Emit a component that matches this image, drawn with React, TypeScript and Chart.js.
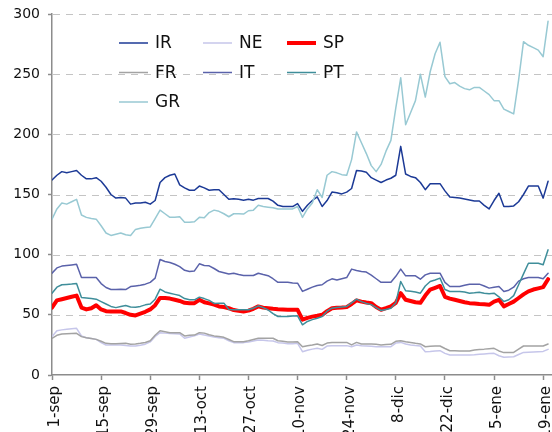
import { useEffect, useRef } from 'react';
import { Chart, registerables } from 'chart.js';

Chart.register(...registerables);

// Business days from 1-sep to 20-ene; ticks every 10 business days
const tickLabels = ['1-sep', '15-sep', '29-sep', '13-oct', '27-oct', '10-nov', '24-nov', '8-dic', '22-dic', '5-ene', '19-ene'];
const tickIndex = [0, 10, 20, 30, 40, 50, 60, 70, 80, 90, 100];

const seriesNames = ['IR', 'NE', 'SP', 'FR', 'IT', 'PT', 'GR'];

const IR = [162, 166, 169, 168, 169, 170, 166, 163, 163, 164,
  161, 156, 150, 147, 147.5, 147, 142, 143, 143, 143.5,
  142, 145, 160, 164, 166, 167, 158, 155.5, 153.5, 153.5,
  157, 155.5, 153.5, 154, 154, 150, 146, 146.4, 146, 145.3,
  146, 145.3, 146.7, 146.7, 146.7, 144.5, 141, 140, 140, 140,
  142.5, 136, 141, 145, 148, 140, 145, 152, 151.5, 150.5,
  152, 155, 170, 169.5, 168.5, 164, 162, 160, 162, 163.5,
  166, 190, 167, 165, 164, 160, 154, 159, 159, 159,
  153, 148, 147.6, 147, 146.3, 145.5, 144.6, 144.6, 141, 138,
  145, 151, 140, 140, 140.5, 144, 150, 157, 157, 157,
  147, 161];

const NE = [31.9, 36.8, 37.5, 38, 38.5, 38.8, 32.4, 31, 30.3, 29.6,
  27, 24.9, 24.9, 24.9, 24.9, 24.5, 24.2, 24.1, 24.8, 25.6,
  27.5, 32, 35.2, 34.8, 34.5, 34.3, 34.1, 30.5, 31.5, 32.5,
  34.1, 33.3, 32.4, 31.5, 31, 30.5, 28.5, 26.9, 26.9, 26.9,
  27.5, 28.3, 29.1, 28.8, 28.5, 28.3, 26.9, 26.6, 26, 26,
  26.3, 19.4, 20.5, 21.5, 22.2, 21.3, 24, 24.4, 24.4, 24.4,
  24.4, 23.5, 24.9, 24.3, 24.1, 23.8, 23.5, 23.5, 23.5, 23.5,
  26.5, 27.1, 25.8, 25, 24.5, 24.1, 19.4, 19.6, 20, 20.2,
  18, 16.6, 16.6, 16.6, 16.6, 16.6, 16.8, 17.2, 17.5, 17.8,
  18, 16, 14.7, 15, 15.2, 17, 18.8, 19, 19.2, 19.4,
  19.6, 21.3];

const SP = [56, 62, 63, 64, 65, 66, 56, 54.5, 55.5, 58,
  54.5, 53, 52.8, 52.8, 52.8, 51.5, 50, 49.5, 51, 52.5,
  54.5, 58, 64, 64, 63.5, 62.5, 61.5, 60, 59.7, 59.7,
  62.5, 60.5, 59.5, 58.5, 57, 56.5, 55.5, 54, 53.3, 52.8,
  53.5, 55, 57, 56, 55.5, 55, 54.7, 54.5, 54.3, 54.2,
  54.2, 46, 47.5, 48.5, 49.2, 50, 53, 55.5, 55.8, 56,
  56.4, 59, 62, 61, 60.3, 59.7, 56.5, 54.2, 55.5, 57,
  60, 68, 62.5, 61.5, 60.5, 60, 66, 71, 72.5, 74,
  65, 63.5, 62.5, 61.5, 60.5, 59.7, 59.5, 59, 58.7, 58.3,
  61, 62.5, 57, 59, 61, 64, 67, 69.5, 71, 72,
  73, 79.6];

const FR = [30.5, 33, 34.1, 34.3, 34.5, 34.6, 31.9, 31, 30.3, 29.6,
  28, 26.3, 26, 26, 26.2, 26.3, 25.5, 25.8, 26.3, 27,
  28.5, 33, 36.8, 36, 35.2, 35.2, 35.2, 32.5, 33, 33.2,
  35.2, 34.8, 33.5, 32.5, 32, 31.3, 29.5, 27.7, 27.7, 27.7,
  28.5, 29.5, 30.5, 30.5, 30.5, 30.5, 28.5, 28, 27.5, 27.5,
  27.7, 23.5, 24.3, 25, 25.8, 24.5, 26.5, 27.1, 27.1, 27.1,
  27.1, 25, 27.1, 25.8, 25.8, 25.8, 25.5, 25, 25.3, 25.5,
  28, 28.5, 27.7, 27, 26.3, 25.8, 23.5, 23.8, 24, 24.1,
  22, 20.2, 20.1, 20, 19.9, 19.9, 20.8, 21.2, 21.5, 21.9,
  22.2, 20, 18.6, 18.7, 18.8, 21.5, 24.1, 24.1, 24.1, 24.1,
  24.1, 25.8];

const IT = [84.6, 89, 90.5, 91, 91.5, 92, 81, 81, 81, 81,
  76, 72.7, 71, 71, 71.3, 71, 73.5, 74, 74.5, 75.5,
  77, 80.5, 96, 94.3, 93.5, 92, 90, 87, 86, 86.5,
  92.4, 91, 90.7, 88.5, 86, 85, 84, 84.6, 83.5, 82.7,
  82.7, 82.7, 84.6, 83.5, 82.5, 80, 77, 77, 77, 76.5,
  76.3, 69.5, 71.3, 73, 74.4, 75, 78, 79.9, 79, 80,
  81, 88, 86.8, 86, 85.5, 83, 80, 77, 77, 77,
  82, 88, 82.4, 82.4, 82.4, 79.6, 83.2, 84.6, 84.6, 84.6,
  77, 73.5, 73.5, 73.5, 74.5, 75.5, 75.5, 75.5, 74, 72.2,
  73, 73.5, 69.4, 70.5, 73, 78, 80, 81, 81, 81,
  80, 84.6];

const PT = [68, 73, 75, 75.3, 75.6, 76, 64.5, 64, 63.5, 63,
  61, 59, 57, 56, 57, 57.8, 56.5, 56.3, 57, 58.3,
  59, 63, 71.3, 69, 68, 67, 66, 63.5, 62.5, 62.5,
  64.7, 63.5, 62, 59.5, 59.7, 59.7, 54.5, 54.2, 54.2, 54.2,
  54.2, 55.5, 57.5, 56, 54, 51, 48.6, 48.6, 48.6, 49,
  49.2, 41.7, 44.5, 46, 47.2, 48.6, 53, 55.5, 56, 56.5,
  57, 60, 63, 61, 59.5, 58.5, 56, 53.6, 54.5, 55.5,
  60, 77.7, 70, 69.5, 69, 68, 74, 77.7, 79, 80.5,
  71, 69.4, 69.4, 69.4, 69, 68, 68.3, 68.8, 68, 67.5,
  68, 65, 61.1, 62.5, 66, 75, 84, 92.9, 92.9, 92.9,
  91.6, 104];

const GR = [129.5, 138, 143, 142, 144, 146, 133, 131, 130, 129.5,
  124, 118, 116, 117, 118, 116.5, 116, 121, 122, 122.5,
  123, 130, 137, 134, 131, 131, 131.5, 127, 127, 127.3,
  131, 130.6, 135, 137, 136, 134, 131.5, 134, 134, 133.7,
  136.5, 137, 141, 140, 139.5, 139, 138, 138, 138, 138,
  140, 131, 138, 143, 154, 147.5, 166, 169, 168, 166.5,
  166, 179, 202, 193, 184, 174, 169, 175, 186, 195,
  222, 247, 208, 218, 228, 250, 231, 252, 267, 276.5,
  248, 242, 243, 240, 238, 237, 239, 239, 236, 233,
  228, 228, 221, 219, 217, 245, 277, 274, 272, 270,
  264.5, 294];

const seriesValues = [IR, NE, SP, FR, IT, PT, GR];
const seriesColors = ['#1c3a96', '#c6c6ea', '#ff0000', '#a3a3a3', '#5a62aa', '#3f8e9a', '#98c9d3'];
const seriesWidths = [1.5, 1.5, 4, 1.5, 1.5, 1.5, 1.5];

const FONT = '"DejaVu Sans", Verdana, sans-serif';

const decor = {
  id: 'decor',
  beforeDatasetsDraw(chart: any, _args: any, opts: any) {
    const ctx = chart.ctx;
    const ys = chart.scales.y;
    const area = chart.chartArea;
    ctx.save();
    ctx.strokeStyle = opts.gridColor;
    ctx.lineWidth = 1;
    ctx.setLineDash(opts.gridDash);
    ys.ticks.forEach((t: any) => {
      if (t.value === 0) return;
      const py = Math.round(ys.getPixelForValue(t.value)) + 0.5;
      ctx.beginPath();
      ctx.moveTo(area.left + 1, py);
      ctx.lineTo(area.right, py);
      ctx.stroke();
    });
    ctx.restore();
  },
  afterDatasetsDraw(chart: any, _args: any, opts: any) {
    const ctx = chart.ctx;
    ctx.save();
    ctx.setLineDash([]);
    // legend inside the plot area
    ctx.font = `${opts.legendSize}px ${FONT}`;
    ctx.textBaseline = 'middle';
    ctx.textAlign = 'left';
    chart.data.datasets.forEach((ds: any, k: number) => {
      const col = k % 3;
      const row = Math.floor(k / 3);
      const x = opts.x0 + col * opts.dx;
      const y = opts.y0 + row * opts.dy;
      ctx.strokeStyle = ds.borderColor;
      ctx.lineWidth = ds.borderWidth;
      ctx.lineCap = 'butt';
      ctx.beginPath();
      ctx.moveTo(x, y);
      ctx.lineTo(x + opts.lineLen, y);
      ctx.stroke();
      ctx.fillStyle = opts.textColor;
      ctx.fillText(ds.label, x + opts.textOff, y + 1);
    });
    ctx.restore();
    // rotated x tick labels (reading upwards, ending just below the axis)
    const xs = chart.scales.x;
    ctx.save();
    ctx.font = `${opts.xTickSize}px ${FONT}`;
    ctx.fillStyle = opts.textColor;
    ctx.textAlign = 'right';
    ctx.textBaseline = 'middle';
    tickIndex.forEach((v, k) => {
      const px = xs.getPixelForValue(v);
      ctx.save();
      ctx.translate(px + opts.xTickShift, xs.top + opts.xTickGap);
      ctx.rotate(-Math.PI / 2);
      ctx.fillText(tickLabels[k], 0, 0);
      ctx.restore();
    });
    ctx.restore();
  },
};

export default function App() {
  const ref = useRef<HTMLCanvasElement>(null);
  useEffect(() => {
    const canvas = ref.current;
    if (!canvas) return;
    const chart = new Chart(canvas, {
      type: 'line',
      data: {
        datasets: seriesNames.map((name, k) => ({
          label: name,
          data: seriesValues[k].map((v, i) => ({ x: i, y: v })),
          borderColor: seriesColors[k],
          backgroundColor: seriesColors[k],
          borderWidth: seriesWidths[k],
          pointRadius: 0,
          tension: 0,
          fill: false,
          borderJoinStyle: 'round',
          borderCapStyle: 'round',
          order: -k,
        })),
      },
      options: {
        animation: false,
        responsive: false,
        devicePixelRatio: 1,
        layout: { padding: { top: 14, left: 0, right: 0, bottom: 0 } },
        plugins: {
          legend: { display: false },
          tooltip: { enabled: false },
          decor: {
            x0: 119, y0: 43, dx: 84, dy: 29.5, lineLen: 29, textOff: 36, legendSize: 17,
            textColor: '#111111', gridColor: '#c4c4c4', gridDash: [7, 6],
            xTickSize: 15, xTickGap: 11, xTickShift: 3,
          },
        } as any,
        scales: {
          x: {
            type: 'linear',
            min: 0,
            max: 101.8,
            afterBuildTicks: (s: any) => {
              s.ticks = tickIndex.map((v) => ({ value: v }));
            },
            afterFit: (s: any) => {
              s.height = 57;
              s.paddingLeft = 0;
              s.paddingRight = 0;
            },
            ticks: { display: false, autoSkip: false },
            grid: { drawOnChartArea: false, tickLength: 5, tickColor: '#8c8c8c', tickWidth: 1.5 },
            border: { display: true, color: '#8c8c8c', width: 1.5 },
          },
          y: {
            min: 0,
            max: 300,
            afterFit: (s: any) => {
              s.width = 52;
              s.paddingTop = 0;
              s.paddingBottom = 0;
            },
            ticks: {
              stepSize: 50,
              padding: 8,
              color: '#111111',
              font: { family: FONT, size: 14 },
            },
            grid: {
              drawOnChartArea: false,
              tickLength: 4,
              tickColor: '#8c8c8c',
              tickWidth: 1.5,
            },
            border: { display: true, color: '#8c8c8c', width: 1.5 },
          },
        },
      },
      plugins: [decor as any],
    } as any);
    return () => chart.destroy();
  }, []);
  return (
    <div style={{ position: 'absolute', left: 0, top: 0, width: 552, height: 432, overflow: 'hidden' }}>
      <canvas ref={ref} width={552} height={432} style={{ display: 'block' }} />
    </div>
  );
}
